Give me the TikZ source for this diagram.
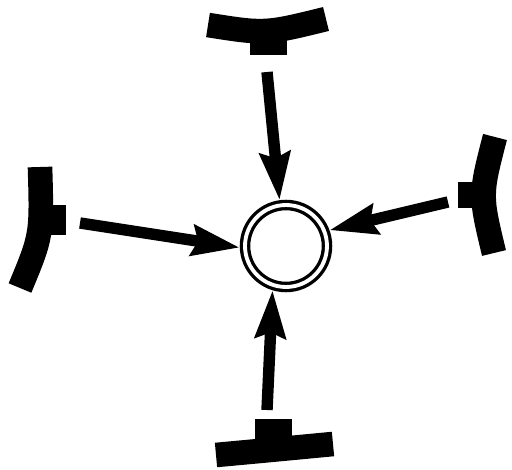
\documentclass[tikz,border=0pt]{standalone}
\usetikzlibrary{arrows.meta}

\begin{document}
\begin{tikzpicture}[
  x=0.02cm, y=-0.02cm,
  mirror/.style={draw=black, line width=14pt},
  mount/.style={fill=black},
  ray/.style={-{Stealth[length=27pt, width=17pt, inset=3pt]}, draw=black, line width=6.5pt},
  hub/.style={circle, draw=black, double=white, line width=1.9pt, double distance=2.2pt,
              minimum size=1.64cm, inner sep=0pt, outer sep=2.9pt}
]
\useasboundingbox (0,0) rectangle (512,470);

% target in the middle
\node[hub] (tgt) at (286,246) {};

% the four reflectors
\draw[mirror] (208,25) .. controls (265,34) .. (326,19);
\fill[mount] (250,28) rectangle (287,55);
\draw[mirror] (216,455) .. controls (270,450) .. (333,444);
\fill[mount] (255,450) rectangle (292,419);
\draw[mirror] (40,167) .. controls (42,235) .. (20,288);
\fill[mount] (42,205) rectangle (66,235);
\draw[mirror] (495,137) .. controls (480,195) .. (494,253);
\fill[mount] (486,182) rectangle (458,208);

% beams
\coordinate (top) at (267,72);
\coordinate (lft) at (80,223);
\coordinate (rgt) at (448,202);
\coordinate (bot) at (267,410);
\draw[ray] (top) -- (tgt.98);
\draw[ray] (lft) -- (tgt.182);
\draw[ray] (rgt) -- (tgt.20);
\draw[ray] (bot) -- (tgt.253);
\end{tikzpicture}
\end{document}
